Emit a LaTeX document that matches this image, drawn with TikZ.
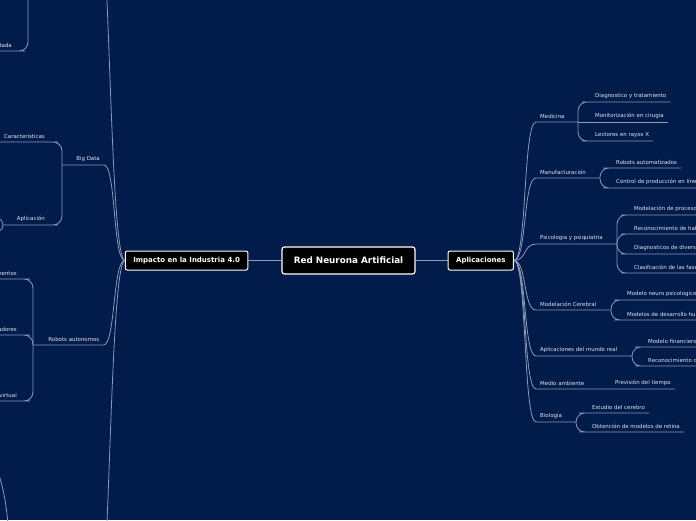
\documentclass[tikz,border=0pt]{standalone}
\usepackage{fontspec}
\setmainfont{DejaVu Sans}
\usetikzlibrary{positioning}
\definecolor{navy}{RGB}{1,27,74}
\definecolor{linkc}{RGB}{140,154,180}
\definecolor{labelc}{RGB}{228,232,239}

\begin{document}
\begin{tikzpicture}[x=1pt, y=1pt,
  rootbox/.style={draw=white, fill=black, text=white, line width=1.2pt, rounded corners=2.5pt,
    font=\fontsize{8.8}{10}\selectfont\bfseries, minimum width=133pt, minimum height=27pt, inner sep=0pt},
  mainbox/.style={draw=white, fill=black, text=white, line width=1pt, rounded corners=2pt,
    font=\fontsize{7}{8}\selectfont\bfseries, minimum height=19pt, inner xsep=8pt, inner ysep=0pt},
  topic/.style={text=labelc, font=\fontsize{5.45}{6.5}\selectfont, inner xsep=4pt, inner ysep=3.3pt},
  link/.style={draw=linkc, line width=0.8pt},
  brace/.style={link, rounded corners=9pt}
]
\useasboundingbox (0,0) rectangle (696,-520);
\fill[navy] (0,0) rectangle (696,-520);
\clip (0,0) rectangle (696,-520);

% centre
\node[rootbox] (root) at (348.5,-260.5) {Red Neurona Artificial};
\node[mainbox, left=33pt of root] (imp) {Impacto en la Industria 4.0};
\node[mainbox, right=32pt of root] (apl) {Aplicaciones};
\draw[link] (root) -- (imp);
\draw[link] (root) -- (apl);

% right side
\node[topic, anchor=south west] (med) at (536,-122) {Medicina};
\node[topic, anchor=south west] (man) at (536,-178) {Manufacturación};
\node[topic, anchor=south west] (psi) at (536,-244) {Psicologia y psiquiatria};
\node[topic, anchor=south west] (mce) at (536,-310) {Modelación Cerebral};
\node[topic, anchor=south west] (amr) at (536,-356) {Aplicaciones del mundo real};
\node[topic, anchor=south west] (mam) at (536,-389) {Medio ambiente};
\node[topic, anchor=south west] (bio) at (536,-422) {Biologia};

\node[topic, anchor=south west] (dia) at (591,-102) {Diagnostico y tratamiento};
\node[topic, anchor=south west] (mon) at (591,-122) {Monitorización en cirugia};
\node[topic, anchor=south west] (lec) at (591,-141) {Lectores en rayos X};
\node[topic, anchor=south west] (rba) at (612,-168) {Robots automatizados};
\node[topic, anchor=south west] (con) at (612,-188) {Control de producción en línea};
\node[topic, anchor=south west] (mod) at (630,-215) {Modelación de procesos};
\node[topic, anchor=south west] (rec) at (630,-234) {Reconocimiento de hab};
\node[topic, anchor=south west] (dgs) at (630,-254) {Diagnosticos de divers};
\node[topic, anchor=south west] (cla) at (630,-273) {Clasifcación de las fase};
\node[topic, anchor=south west] (mnp) at (623,-300) {Modelo neuro psicologico};
\node[topic, anchor=south west] (mdh) at (623,-320) {Modelos de desarrollo hu};
\node[topic, anchor=south west] (mfi) at (644,-347) {Modelo financiero};
\node[topic, anchor=south west] (rcd) at (644,-366) {Reconocimiento d};
\node[topic, anchor=south west] (pre) at (611,-389) {Previsión del tiempo};
\node[topic, anchor=south west] (est) at (588,-413) {Estudio del cerebro};
\node[topic, anchor=south west] (obt) at (588,-432) {Obtención de modelos de retina};

\draw[link] (apl.east) .. controls +(13,0) and +(-13,0) .. (med.south west) -- (med.south east) -- (578,-122) coordinate (medj);
\draw[link] (apl.east) .. controls +(13,0) and +(-13,0) .. (man.south west) -- (man.south east) -- (600,-178) coordinate (manj);
\draw[link] (apl.east) .. controls +(13,0) and +(-13,0) .. (psi.south west) -- (psi.south east) -- (617,-244) coordinate (psij);
\draw[link] (apl.east) .. controls +(13,0) and +(-13,0) .. (mce.south west) -- (mce.south east) -- (611,-310) coordinate (mcej);
\draw[link] (apl.east) .. controls +(13,0) and +(-13,0) .. (amr.south west) -- (amr.south east) -- (632,-356) coordinate (amrj);
\draw[link] (apl.east) .. controls +(13,0) and +(-13,0) .. (mam.south west) -- (pre.south east);
\draw[link] (apl.east) .. controls +(13,0) and +(-13,0) .. (bio.south west) -- (bio.south east) -- (576,-422) coordinate (bioj);

\draw[brace] (medj) |- (dia.south west) -- (dia.south east);
\draw[link] (medj) -- (mon.south east);
\draw[brace] (medj) |- (lec.south west) -- (lec.south east);
\draw[brace] (manj) |- (rba.south west) -- (rba.south east);
\draw[brace] (manj) |- (con.south west) -- (con.south east);
\draw[brace] (psij) |- (mod.south west) -- (mod.south east);
\draw[brace] (psij) |- (rec.south west) -- (rec.south east);
\draw[brace] (psij) |- (dgs.south west) -- (dgs.south east);
\draw[brace] (psij) |- (cla.south west) -- (cla.south east);
\draw[brace] (mcej) |- (mnp.south west) -- (mnp.south east);
\draw[brace] (mcej) |- (mdh.south west) -- (mdh.south east);
\draw[brace] (amrj) |- (mfi.south west) -- (mfi.south east);
\draw[brace] (amrj) |- (rcd.south west) -- (rcd.south east);
\draw[brace] (bioj) |- (est.south west) -- (est.south east);
\draw[brace] (bioj) |- (obt.south west) -- (obt.south east);

% left side
\node[topic, anchor=south east] (bd) at (104,-165) {Big Data};
\node[topic, anchor=south east] (ra) at (103.5,-345) {Robots autonomos};
\node[topic, anchor=south east] (car) at (49,-142) {Caracteristicas};
\node[topic, anchor=south east] (apc) at (49,-225) {Aplicación};
\node[topic, anchor=south east] (tad) at (16,-51) {tada};
\node[topic, anchor=south east] (men) at (21,-279) {mentos};
\node[topic, anchor=south east] (ado) at (21,-335) {adores};
\node[topic, anchor=south east] (vir) at (21,-401) {virtual};

\coordinate (ltop) at (106,20);
\coordinate (lbot) at (106,-545);
\coordinate (ttop) at (28,20);
\coordinate (apc1) at (-10,-218);
\coordinate (apc2) at (-10,-232);
\coordinate (bl1) at (-6,-462);
\coordinate (bl2) at (9,-545);

\draw[link] (imp.west) .. controls (114,-259) and (111,-80) .. (ltop);
\draw[link] (imp.west) .. controls (114,-263) and (111,-440) .. (lbot);
\draw[link] (imp.west) .. controls +(-12,0) and +(12,0) .. (bd.south east) -- (bd.south west) -- (62,-165) coordinate (bdj);
\draw[link] (imp.west) .. controls +(-12,0) and +(12,0) .. (ra.south east) -- (ra.south west) -- (33,-345) coordinate (raj);

\draw[brace] (bdj) |- (car.south east) -- (car.south west);
\draw[brace] (bdj) |- (apc.south east) -- (apc.south west) -- (3,-225) coordinate (apcj);
\draw[link, rounded corners=7pt] (apcj) |- (apc1);
\draw[link, rounded corners=7pt] (apcj) |- (apc2);
\draw[brace] (ttop) |- (tad.south east) -- (tad.south west);
\draw[brace] (raj) |- (men.south east) -- (men.south west);
\draw[brace] (raj) |- (ado.south east) -- (ado.south west);
\draw[brace] (raj) |- (vir.south east) -- (vir.south west);
\draw[link] (bl2) .. controls (8,-505) and (2,-480) .. (bl1);
\end{tikzpicture}
\end{document}
